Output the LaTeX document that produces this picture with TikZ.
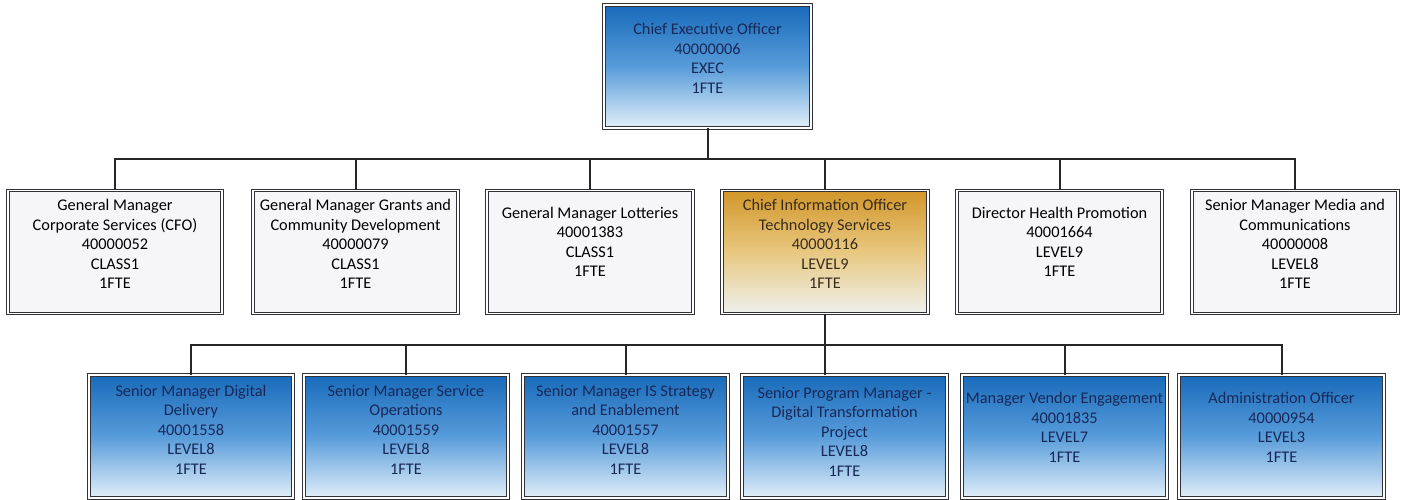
\documentclass[tikz,border=0pt]{standalone}
\usepackage{fontspec}
\setmainfont{Carlito}
\definecolor{bTop}{RGB}{24,106,186}
\definecolor{bMid}{RGB}{88,156,218}
\definecolor{bBot}{RGB}{226,239,249}
\definecolor{oTop}{RGB}{210,150,42}
\definecolor{oMid}{RGB}{232,200,128}
\definecolor{oBot}{RGB}{238,241,238}
\definecolor{navy}{RGB}{24,40,88}
\definecolor{brownish}{RGB}{56,44,28}
\definecolor{wfill}{RGB}{246,246,248}
\definecolor{edge}{RGB}{50,50,56}
\begin{document}
\begin{tikzpicture}[x=1pt,y=-1pt,
  box/.style={rectangle, draw=edge, line width=0.8pt, double=white, double distance=1.8pt,
    minimum width=#1, minimum height=123pt, inner sep=0pt},
  box/.default=206pt,
  bluebox/.style={top color=bTop, bottom color=bBot, middle color=bMid},
  goldbox/.style={top color=oTop, bottom color=oBot, middle color=oMid},
  whitebox/.style={fill=wfill},
  txt/.style={align=center, font=\fontsize{16.3}{19.5}\selectfont, inner sep=0pt},
  conn/.style={line width=2pt, draw=black!85}]
\useasboundingbox (0,0) rectangle (1404,500);

% top
\node[box=207pt, bluebox] (ceo) at (707.5,66.5) {};
% row 2
\node[box=214pt, whitebox] (gm1) at (115,252) {};
\node[box=205pt, whitebox] (gm2) at (355.5,252) {};
\node[box=206pt, whitebox] (gm3) at (590,252) {};
\node[box=206pt, goldbox] (cio) at (825,252) {};
\node[box=205pt, whitebox] (dhp) at (1059.5,252) {};
\node[box=206pt, whitebox] (smm) at (1295,252) {};
% row 3
\node[box=204pt, bluebox] (b1) at (191,436.5) {};
\node[box=204pt, bluebox] (b2) at (406,436.5) {};
\node[box=205pt, bluebox] (b3) at (625.5,436.5) {};
\node[box=205pt, bluebox] (b4) at (844.5,436.5) {};
\node[box=205pt, bluebox] (b5) at (1064.5,436.5) {};
\node[box=205pt, bluebox] (b6) at (1281.5,436.5) {};

% connectors
\foreach \c in {gm1,gm2,gm3,cio,dhp,smm}
  \draw[conn] (ceo.south) -- ++(0,31) -| (\c.north);
\foreach \c in {b1,b2,b3,b5,b6}
  \draw[conn] (cio.south) -- ++(0,31) -| (\c.north);
\draw[conn] (cio.south) -- (cio.south |- b4.north);

% texts
\node[txt, text=navy] (tceo) at ([yshift=8pt]ceo.center) {Chief Executive Officer\\40000006\\EXEC\\1FTE};
\node[txt] (tgm1) at ([yshift=8pt]gm1.center) {General Manager\\Corporate Services (CFO)\\40000052\\CLASS1\\1FTE};
\node[txt] (tgm2) at ([yshift=8pt]gm2.center) {General Manager Grants and\\Community Development\\40000079\\CLASS1\\1FTE};
\node[txt] (tgm3) at ([yshift=10pt]gm3.center) {General Manager Lotteries\\40001383\\CLASS1\\1FTE};
\node[txt, text=brownish] (tcio) at ([yshift=8pt]cio.center) {Chief Information Officer\\Technology Services\\40000116\\LEVEL9\\1FTE};
\node[txt] (tdhp) at ([yshift=10pt]dhp.center) {Director Health Promotion\\40001664\\LEVEL9\\1FTE};
\node[txt] (tsmm) at ([yshift=8pt]smm.center) {Senior Manager Media and\\Communications\\40000008\\LEVEL8\\1FTE};
\node[txt, text=navy] (tb1) at ([yshift=7pt]b1.center) {Senior Manager Digital\\Delivery\\40001558\\LEVEL8\\1FTE};
\node[txt, text=navy] (tb2) at ([yshift=7pt]b2.center) {Senior Manager Service\\Operations\\40001559\\LEVEL8\\1FTE};
\node[txt, text=navy] (tb3) at ([yshift=7pt]b3.center) {Senior Manager IS Strategy\\and Enablement\\40001557\\LEVEL8\\1FTE};
\node[txt, text=navy] (tb4) at ([yshift=5pt]b4.center) {Senior Program Manager -\\Digital Transformation\\Project\\LEVEL8\\1FTE};
\node[txt, text=navy] (tb5) at ([yshift=9pt]b5.center) {Manager Vendor Engagement\\40001835\\LEVEL7\\1FTE};
\node[txt, text=navy] (tb6) at ([yshift=9pt]b6.center) {Administration Officer\\40000954\\LEVEL3\\1FTE};
\end{tikzpicture}
\end{document}
